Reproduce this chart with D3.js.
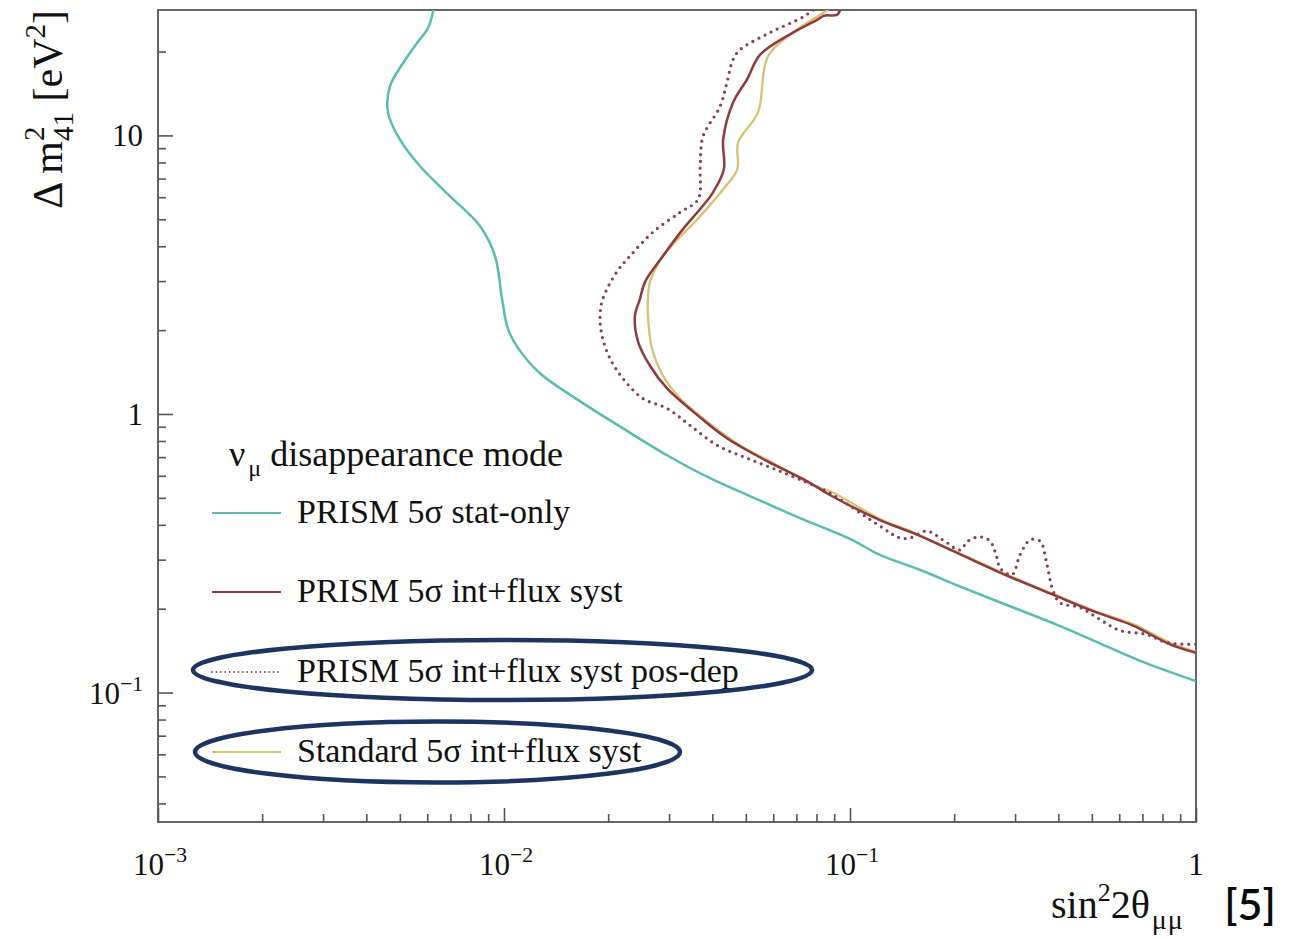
<!DOCTYPE html>
<html>
<head>
<meta charset="utf-8">
<script src="https://cdn.jsdelivr.net/npm/d3@7/dist/d3.min.js"></script>
<style>
  html, body { margin: 0; padding: 0; background: #ffffff; }
  svg { display: block; }
  .serif { font-family: "Liberation Serif", "Times New Roman", serif; fill: #111; }
</style>
</head>
<body>
<svg id="chart" width="1294" height="939"></svg>
<script>
// Sensitivity contours: sin^2(2θμμ) vs Δm²41 [eV²]
const statOnly = [
  [0.00625, 28.2], [0.00603, 24.3], [0.00561, 21.5], [0.00511, 18.2], [0.00468, 15.0],
  [0.00462, 12.1], [0.00500, 9.67], [0.00572, 7.75], [0.00698, 6.05], [0.00852, 4.73],
  [0.00942, 3.69], [0.00987, 2.59], [0.01027, 2.02], [0.0110, 1.72], [0.0127, 1.40],
  [0.0166, 1.11], [0.0216, 0.903], [0.0296, 0.711], [0.0394, 0.588], [0.0514, 0.507],
  [0.0717, 0.423], [0.100, 0.356], [0.122, 0.312], [0.159, 0.276], [0.212, 0.238],
  [0.296, 0.202], [0.397, 0.175], [0.504, 0.154], [0.689, 0.130], [1.0, 0.110]
];

const intFluxSyst = [
  [0.0936, 28.2], [0.0917, 27.1], [0.0841, 26.9], [0.0803, 26.0], [0.0684, 23.4],
  [0.0550, 19.5], [0.0504, 15.9], [0.0459, 13.1], [0.0430, 9.67], [0.0432, 7.56],
  [0.0402, 6.25], [0.0369, 5.44], [0.0329, 4.61], [0.0288, 3.69], [0.02556, 2.98],
  [0.02472, 2.59], [0.0239, 2.25], [0.0244, 1.82], [0.02642, 1.49], [0.0296, 1.235],
  [0.0352, 1.02], [0.0441, 0.818], [0.0576, 0.677], [0.0751, 0.574], [0.0875, 0.512],
  [0.122, 0.416], [0.152, 0.374], [0.204, 0.317], [0.284, 0.263], [0.386, 0.2245],
  [0.518, 0.1935], [0.658, 0.174], [0.841, 0.149], [1.0, 0.139]
];

const intFluxPosDep = [
  [0.0782, 28.2], [0.0731, 26.6], [0.0587, 23.4], [0.0481, 20.3], [0.0459, 18.7],
  [0.0441, 15.5], [0.0421, 12.7], [0.0376, 9.92], [0.0369, 7.75], [0.0364, 5.90],
  [0.0323, 5.30], [0.02696, 4.50], [0.02313, 3.69], [0.0212, 3.24], [0.0193, 2.59],
  [0.01895, 2.25], [0.0192, 1.91], [0.02025, 1.58], [0.02208, 1.34], [0.0252, 1.137],
  [0.0296, 1.047], [0.0345, 0.910], [0.0413, 0.772], [0.0504, 0.694], [0.0628, 0.623],
  [0.0782, 0.555], [0.0875, 0.520], [0.122, 0.396], [0.1395, 0.359], [0.1491, 0.359],
  [0.1669, 0.380], [0.1857, 0.353], [0.2079, 0.325], [0.2193, 0.350], [0.2376, 0.362],
  [0.2539, 0.350], [0.266, 0.304], [0.2714, 0.280], [0.294, 0.265], [0.310, 0.312],
  [0.3313, 0.353], [0.3541, 0.350], [0.3711, 0.287], [0.3861, 0.232], [0.4046, 0.210],
  [0.4619, 0.202], [0.5278, 0.183], [0.6031, 0.167], [0.7218, 0.1615], [0.8246, 0.151],
  [1.0, 0.149]
];

const standardSyst = [
  [0.0864, 28.2], [0.0819, 27.1], [0.0684, 23.4], [0.0579, 19.2], [0.0542, 12.1],
  [0.0475, 9.44], [0.0472, 7.56], [0.0430, 6.41], [0.0369, 5.13], [0.0288, 3.69],
  [0.02642, 2.98], [0.02607, 2.59], [0.02607, 2.25], [0.02677, 1.72], [0.0288, 1.374],
  [0.0323, 1.137], [0.0386, 0.941], [0.0481, 0.772], [0.0615, 0.655], [0.0782, 0.555],
  [0.0875, 0.529], [0.122, 0.420], [0.152, 0.376], [0.204, 0.319], [0.284, 0.265],
  [0.386, 0.226], [0.518, 0.195], [0.658, 0.176], [0.841, 0.151], [1.0, 0.140]
];

const xMajorTicks = [1e-3, 1e-2, 1e-1, 1];
const xTickLabels = [["10", "\u22123"], ["10", "\u22122"], ["10", "\u22121"], ["1", ""]];
const yMajorTicks = [0.1, 1, 10];
const yTickLabels = [["10", "\u22121"], ["1", ""], ["10", ""]];

const legendTitle = ["\u03bd", "\u03bc", " disappearance mode"];
const legendLabels = [
  "PRISM 5\u03c3 stat-only",
  "PRISM 5\u03c3 int+flux syst",
  "PRISM 5\u03c3 int+flux syst pos-dep",
  "Standard 5\u03c3 int+flux syst"
];

// ---- layout ----
const svg = d3.select("#chart");
const plot = { left: 158, right: 1196, top: 10, bottom: 822 };

const x = d3.scaleLog().domain([1e-3, 1]).range([plot.left, plot.right]);
const y = d3.scaleLog().domain([0.0343, 28.2]).range([plot.bottom, plot.top]);

function minorTicks(lo, hi) {
  const out = [];
  for (let e = Math.floor(Math.log10(lo)); e <= Math.ceil(Math.log10(hi)); e++) {
    for (let m = 2; m <= 9; m++) {
      const v = m * Math.pow(10, e);
      if (v > lo && v < hi) out.push(v);
    }
  }
  return out;
}

// clip region for curves
svg.append("defs").append("clipPath").attr("id", "plotClip")
  .append("rect")
  .attr("x", plot.left).attr("y", plot.top)
  .attr("width", plot.right - plot.left).attr("height", plot.bottom - plot.top);

const axisColor = "#555";

// ---- axes (ticks point inward) ----
const xMajorAxis = d3.axisBottom(x).tickValues(xMajorTicks).tickSizeInner(-14).tickSizeOuter(0).tickFormat("");
const xMinorAxis = d3.axisBottom(x).tickValues(minorTicks(1e-3, 1)).tickSizeInner(-8).tickSizeOuter(0).tickFormat("");
const yMajorAxis = d3.axisLeft(y).tickValues(yMajorTicks).tickSizeInner(-15).tickSizeOuter(0).tickFormat("");
const yMinorAxis = d3.axisLeft(y).tickValues(minorTicks(0.0343, 28.2)).tickSizeInner(-8).tickSizeOuter(0).tickFormat("");

[[xMajorAxis, "x"], [xMinorAxis, "x"], [yMajorAxis, "y"], [yMinorAxis, "y"]].forEach(([ax, kind]) => {
  const g = svg.append("g")
    .attr("transform", kind === "x" ? `translate(0,${plot.bottom})` : `translate(${plot.left},0)`)
    .call(ax);
  g.select(".domain").remove();
  g.selectAll(".tick line").attr("stroke", axisColor).attr("stroke-width", 1.6);
});

// frame
svg.append("rect")
  .attr("x", plot.left).attr("y", plot.top)
  .attr("width", plot.right - plot.left).attr("height", plot.bottom - plot.top)
  .attr("fill", "none").attr("stroke", axisColor).attr("stroke-width", 1.8);

// tick labels with superscript exponents
const tickFont = 31;
xMajorTicks.forEach((v, i) => {
  const [base, exp] = xTickLabels[i];
  const t = svg.append("text").attr("class", "serif")
    .attr("x", x(v) + (exp ? 2 : 0)).attr("y", 875)
    .attr("text-anchor", "middle").attr("font-size", tickFont);
  t.append("tspan").text(base);
  if (exp) t.append("tspan").attr("font-size", tickFont * 0.7).attr("dy", -13).text(exp);
});
yMajorTicks.forEach((v, i) => {
  const [base, exp] = yTickLabels[i];
  const t = svg.append("text").attr("class", "serif")
    .attr("x", 143).attr("y", y(v) + 11)
    .attr("text-anchor", "end").attr("font-size", tickFont);
  t.append("tspan").text(base);
  if (exp) t.append("tspan").attr("font-size", tickFont * 0.7).attr("dy", -13).text(exp);
});

// axis titles
const xt = svg.append("text").attr("class", "serif")
  .attr("x", 1051).attr("y", 918).attr("font-size", 40);
xt.append("tspan").text("sin");
xt.append("tspan").attr("font-size", 26).attr("dy", -17).text("2");
xt.append("tspan").attr("dy", 17).text("2\u03b8");
xt.append("tspan").attr("font-size", 28).attr("dx", 2).attr("dy", 11).attr("letter-spacing", 1).text("\u03bc\u03bc");

svg.append("text")
  .attr("x", 1250).attr("y", 920)
  .attr("text-anchor", "middle")
  .attr("font-family", "Lato, 'Open Sans', sans-serif")
  .attr("font-size", 43).attr("font-weight", 600)
  .attr("fill", "#0a0a0a")
  .text("[5]");

const yt = svg.append("text").attr("class", "serif")
  .attr("transform", "translate(62,10) rotate(-90)")
  .attr("text-anchor", "end").attr("font-size", 42);
yt.append("tspan").text("\u0394 m");
yt.append("tspan").attr("font-size", 29).attr("dy", -18).text("2");
yt.append("tspan").attr("font-size", 29).attr("dx", -14.5).attr("dy", 29).text("41");
yt.append("tspan").attr("dy", -11).text(" [eV");
yt.append("tspan").attr("font-size", 29).attr("dy", -17).text("2");
yt.append("tspan").attr("dy", 17).text("]");

// ---- contours ----
const line = d3.line()
  .x(d => x(d[0]))
  .y(d => y(d[1]))
  .curve(d3.curveCatmullRom.alpha(0.5));

const series = [
  { data: statOnly, color: "#5bbcab", width: 2.5, dash: null },
  { data: standardSyst, color: "#d6c275", width: 2.3, dash: null },
  { data: intFluxSyst, color: "#8e3b3b", width: 2.5, dash: null },
  { data: intFluxPosDep, color: "#8a3c52", width: 3.2, dash: "0,6.8" }
];

const curves = svg.append("g").attr("clip-path", "url(#plotClip)");
series.forEach(s => {
  curves.append("path")
    .datum(s.data)
    .attr("d", line)
    .attr("fill", "none")
    .attr("stroke", s.color)
    .attr("stroke-width", s.width)
    .attr("stroke-linecap", s.dash ? "round" : "butt")
    .attr("stroke-linejoin", "round")
    .attr("stroke-dasharray", s.dash);
});

// ---- legend ----
const lt = svg.append("text").attr("class", "serif")
  .attr("x", 229).attr("y", 466).attr("font-size", 36);
lt.append("tspan").text(legendTitle[0]);
lt.append("tspan").attr("font-size", 24).attr("dx", 3).attr("dy", 10).text(legendTitle[1]);
lt.append("tspan").attr("dy", -10).text(legendTitle[2]);

const legendStyles = [series[0], series[2], series[3], series[1]];
const legendRows = [512, 591, 671, 751];
legendRows.forEach((cy, i) => {
  const s = legendStyles[i];
  svg.append("line")
    .attr("x1", 212).attr("x2", 281).attr("y1", cy + 1).attr("y2", cy + 1)
    .attr("stroke", s.color)
    .attr("stroke-width", s.dash ? 1.8 : 2.2)
    .attr("stroke-linecap", s.dash ? "round" : "butt")
    .attr("stroke-dasharray", s.dash ? "0,4.4" : null);
  svg.append("text").attr("class", "serif")
    .attr("x", 297).attr("y", cy + 11).attr("font-size", 34)
    .text(legendLabels[i]);
});

// highlight rings around the last two entries
[[502.5, 670, 309.5, 30], [437.5, 752, 242.5, 30.5]].forEach(([cx, cy, rx, ry]) => {
  svg.append("ellipse")
    .attr("cx", cx).attr("cy", cy).attr("rx", rx).attr("ry", ry)
    .attr("fill", "none").attr("stroke", "#1d3360").attr("stroke-width", 4.5);
});
</script>
</body>
</html>
